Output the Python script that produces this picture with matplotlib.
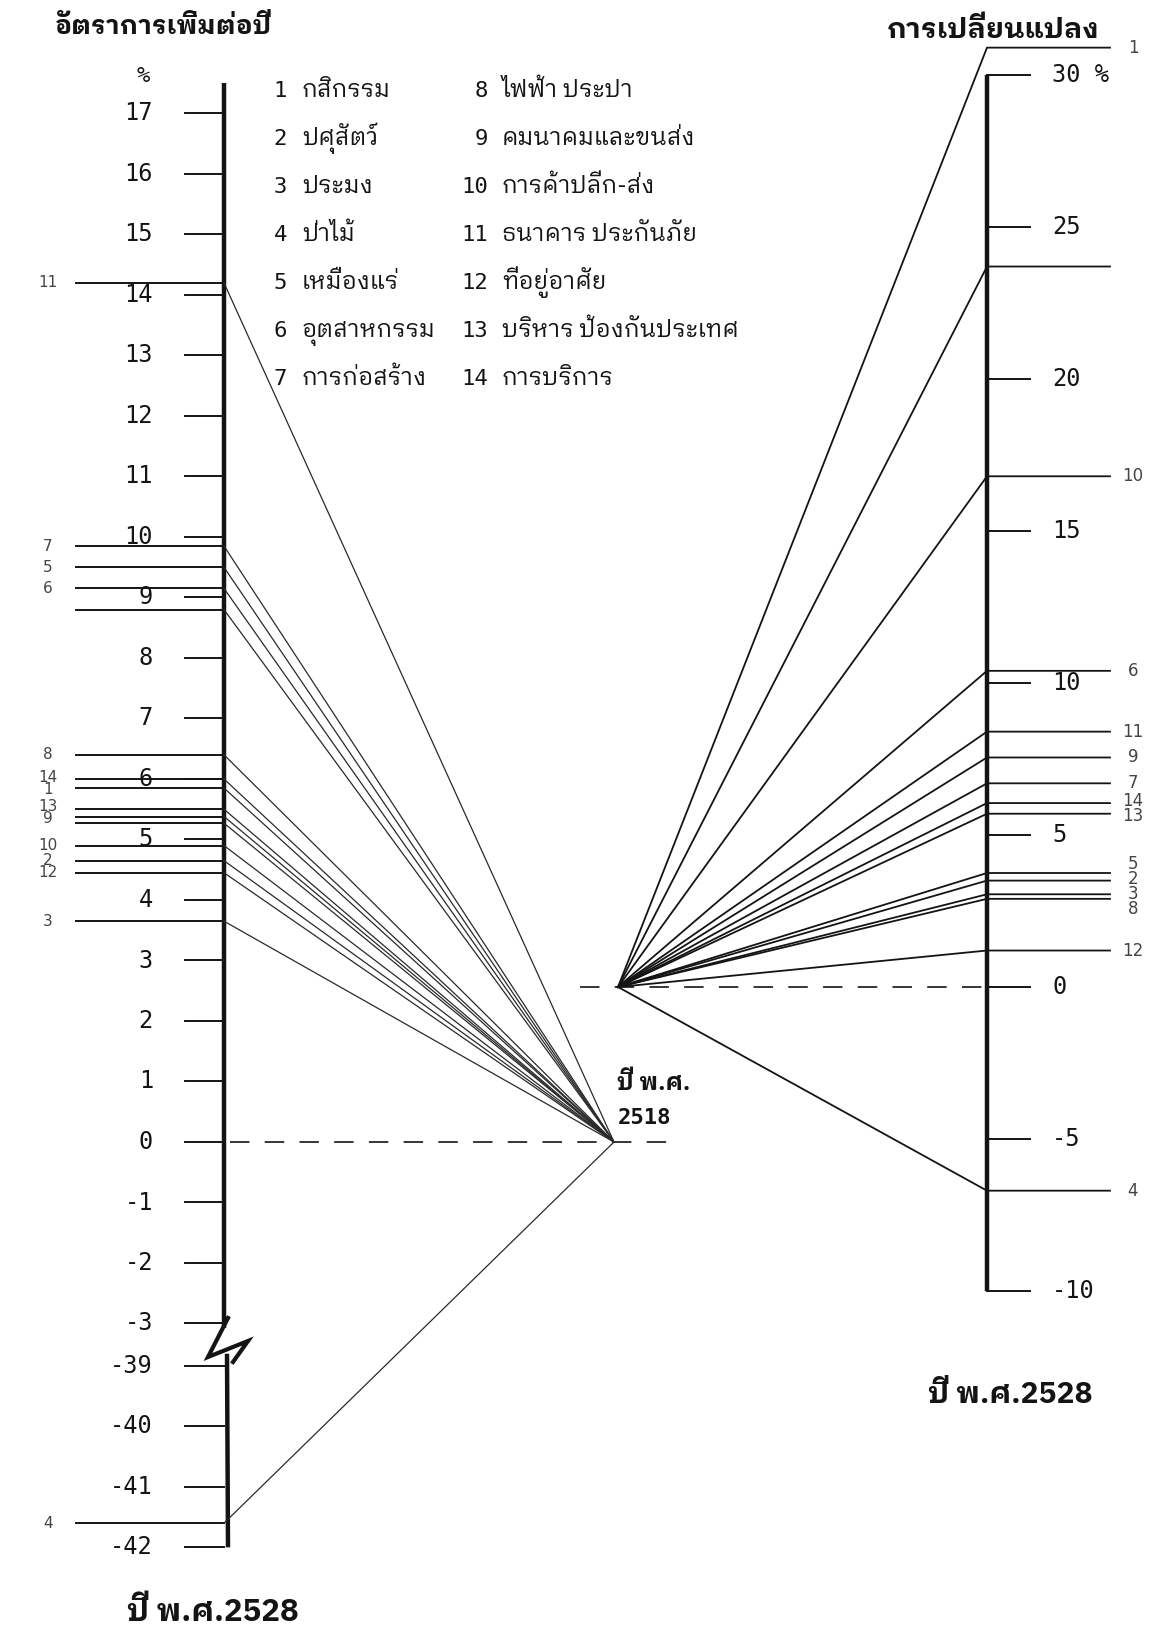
import matplotlib
matplotlib.use("Agg")
import matplotlib.pyplot as plt
from matplotlib import font_manager

plt.rcParams['lines.scale_dashes'] = False
_avail = {f.name for f in font_manager.fontManager.ttflist}


def pick(prefs):
    fams = [p for p in prefs if p in _avail]
    return fams + ['DejaVu Sans']


THAI = pick(['Tlwg Typewriter', 'Tlwg Typist', 'Tlwg Mono', 'Tlwg Typo',
             'IBM Plex Sans Thai Looped', 'Noto Sans Thai Looped', 'Noto Sans Thai', 'FreeSerif'])
MONO = pick(['DejaVu Sans Mono'])
INK = '#141414'

# ---------------- data ----------------
left_title = "อัตราการเพิ่มต่อปี"
right_title = "การเปลี่ยนแปลง"
start_label = ["ปี พ.ศ.", "2518"]
end_label = "ปี พ.ศ.2528"
unit_label = "%"

sector_ids = [str(i) for i in range(1, 15)]
sector_names = ["กสิกรรม", "ปศุสัตว์", "ประมง", "ป่าไม้", "เหมืองแร่", "อุตสาหกรรม",
                "การก่อสร้าง", "ไฟฟ้า ประปา", "คมนาคมและขนส่ง", "การค้าปลีก-ส่ง",
                "ธนาคาร ประกันภัย", "ที่อยู่อาศัย", "บริหาร ป้องกันประเทศ", "การบริการ"]

left_ticks_upper = [17, 16, 15, 14, 13, 12, 11, 10, 9, 8, 7, 6, 5, 4, 3, 2, 1, 0, -1, -2, -3]
left_ticks_lower = [-39, -40, -41, -42]
right_ticks = [30, 25, 20, 15, 10, 5, 0, -5, -10]
right_tick_labels = ["30 %", "25", "20", "15", "10", "5", "0", "-5", "-10"]

left_line_labels = ["11", "7", "5", "6", "", "8", "14", "1", "13", "9", "", "10", "2", "12", "3", "4"]
left_line_values = [14.2, 9.85, 9.5, 9.15, 8.8, 6.4, 6.0, 5.85, 5.5, 5.38, 5.27, 4.9, 4.65, 4.45, 3.65, -41.6]

right_line_labels = ["1", "", "10", "6", "11", "9", "7", "14", "13", "5", "2", "3", "8", "12", "4"]
right_line_values = [30.9, 23.7, 16.8, 10.4, 8.4, 7.55, 6.7, 6.05, 5.7, 3.75, 3.5, 3.05, 2.9, 1.2, -6.7]

# ---------------- layout ----------------
W, H = 1162, 1651
PXL, Y0L = 60.5, 1142.0      # left scale: px per unit, pixel row of 0
BREAK_OFFSET = 35.3          # values below the break are shifted up by this
PXR, Y0R = 30.4, 987.0       # right scale

XL_AXIS, XL_TICK0, XL_LINE0, XL_LABEL, XL_TICKLAB = 224, 185, 76, 48, 153
X_FAN_L = 614
XR_AXIS, XR_TICK1, XR_LINE1, XR_LABEL, XR_TICKLAB = 987, 1030, 1110, 1133, 1052
X_FAN_R = 618


def posL(v):
    return v if v >= -10 else v + BREAK_OFFSET


fig = plt.figure(figsize=(W / 100, H / 100), dpi=100)
axP = fig.add_axes([0, 0, 1, 1])
axP.set_xlim(0, W); axP.set_ylim(H, 0); axP.axis('off')
axL = fig.add_axes([0, 0, 1, 1])
axL.set_xlim(0, W); axL.set_ylim((Y0L - H) / PXL, Y0L / PXL); axL.axis('off')
axL.patch.set_alpha(0)
axR = fig.add_axes([0, 0, 1, 1])
axR.set_xlim(0, W); axR.set_ylim((Y0R - H) / PXR, Y0R / PXR); axR.axis('off')
axR.patch.set_alpha(0)


def spread(ax, values, labels, gap):
    """label positions (data coords) pushed apart to at least `gap` pixels"""
    idx = [i for i, l in enumerate(labels) if l]
    ys = {i: ax.transData.transform((0, values[i]))[1] for i in idx}
    order = sorted(idx, key=lambda i: ys[i])
    for _ in range(200):
        moved = False
        for a, b in zip(order[:-1], order[1:]):
            d = ys[b] - ys[a]
            if d < gap:
                s = (gap - d) / 2
                ys[a] -= s; ys[b] += s; moved = True
        if not moved:
            break
    inv = ax.transData.inverted()
    return {i: inv.transform((0, ys[i]))[1] for i in idx}

# ---------------- left scale ----------------
upper_top, upper_bot = 17.5, -3.08
lower_top, lower_bot = -38.8, -42.0
axL.plot([XL_AXIS, XL_AXIS], [posL(upper_top), posL(upper_bot)], color=INK, lw=3.2, solid_capstyle='butt')
axL.plot([XL_AXIS + 3, XL_AXIS + 4], [posL(lower_top), posL(lower_bot)], color=INK, lw=3.2, solid_capstyle='butt')
for v in left_ticks_upper + left_ticks_lower:
    axL.plot([XL_TICK0, XL_AXIS], [posL(v), posL(v)], color=INK, lw=1.4)
    axL.text(XL_TICKLAB, posL(v), str(v), ha='right', va='center', fontsize=17,
             family=MONO, color=INK)
axP.text(143, 76, unit_label, ha='center', va='center', fontsize=16, family=MONO, color=INK)

# break zig-zag
axP.plot([228, 208, 248, 233], [1318, 1357, 1341, 1362], color=INK, lw=3.0,
         solid_joinstyle='miter')

# zero dashed line and sector lines
axL.plot([XL_AXIS + 6, 680], [0, 0], color=INK, lw=1.2, dashes=(14, 11))
lab_y = spread(axL, [posL(v) for v in left_line_values], left_line_labels, 12)
for i, (lab, v) in enumerate(zip(left_line_labels, left_line_values)):
    p = posL(v)
    axL.plot([XL_LINE0, XL_AXIS], [p, p], color=INK, lw=1.4)
    axL.plot([XL_AXIS, X_FAN_L], [p, 0], color='#2a2a2a', lw=0.9)
    if lab:
        axL.text(XL_LABEL, lab_y[i], lab, ha='center', va='center', fontsize=11,
                 color='#444444')

# ---------------- right scale ----------------
axR.plot([XR_AXIS, XR_AXIS], [right_ticks[0], right_ticks[-1]], color=INK, lw=3.2,
         solid_capstyle='butt')
for v, t in zip(right_ticks, right_tick_labels):
    axR.plot([XR_AXIS, XR_TICK1], [v, v], color=INK, lw=1.4)
    axR.text(XR_TICKLAB, v, t, ha='left', va='center', fontsize=17, family=MONO, color=INK)

axR.plot([580, XR_AXIS], [0, 0], color=INK, lw=1.2, dashes=(14, 11))
rlab_y = spread(axR, right_line_values, right_line_labels, 15)
for i, (lab, v) in enumerate(zip(right_line_labels, right_line_values)):
    axR.plot([X_FAN_R, XR_AXIS, XR_LINE1], [0, v, v], color=INK, lw=1.3)
    if lab:
        axR.text(XR_LABEL, rlab_y[i], lab, ha='center', va='center', fontsize=12,
                 color='#444444')

# ---------------- titles & notes ----------------
axP.text(55, 27, left_title, ha='left', va='center', fontsize=19, family=THAI,
         fontweight='bold', color=INK)
axP.text(887, 30, right_title, ha='left', va='center', fontsize=20.5, family=THAI,
         fontweight='bold', color=INK)
axP.text(617, 1083, start_label[0], ha='left', va='center', fontsize=17, family=THAI,
         fontweight='bold', color=INK)
axP.text(618, 1118, start_label[1], ha='left', va='center', fontsize=16, family=MONO,
         fontweight='bold', color=INK)
axP.text(127, 1612, end_label, ha='left', va='center', fontsize=22.5, family=THAI,
         fontweight='bold', color=INK)
axP.text(928, 1395, end_label, ha='left', va='center', fontsize=21.5, family=THAI,
         fontweight='bold', color=INK)

# ---------------- legend ----------------
for k, (sid, name) in enumerate(zip(sector_ids, sector_names)):
    col, row = divmod(k, 7)
    yb = 97 + 48 * row
    xn, xt = (287, 302) if col == 0 else (488, 502)
    axP.text(xn, yb, sid, ha='right', va='baseline', fontsize=16, family=MONO, color=INK)
    axP.text(xt, yb, name, ha='left', va='baseline', fontsize=17, family=THAI, color=INK)

fig.savefig("out.png", dpi=100, facecolor='white')
